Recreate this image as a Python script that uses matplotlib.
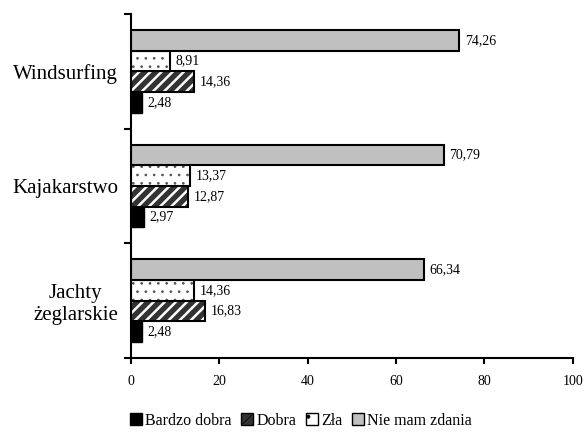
import numpy as np
import matplotlib
import matplotlib.pyplot as plt
from matplotlib.patches import Patch

# dane z wykresu
categories = ['Jachty\nżeglarskie', 'Kajakarstwo', 'Windsurfing']
series_names = ['Bardzo dobra', 'Dobra', 'Zła', 'Nie mam zdania']
bardzo_dobra = [2.48, 2.97, 2.48]
dobra = [16.83, 12.87, 14.36]
zla = [14.36, 13.37, 8.91]
nie_mam = [66.34, 70.79, 74.26]
xticks = [0, 20, 40, 60, 80, 100]

plt.rcParams['font.family'] = ['Liberation Serif', 'DejaVu Serif']

fig = plt.figure(figsize=(5.84, 4.37), dpi=100)
ax = fig.add_axes([0.224, 0.181, 0.757, 0.787])

y = np.arange(len(categories))
h = 0.18
offsets = [-1.5 * h, -0.5 * h, 0.5 * h, 1.5 * h]

def label(vals, pos):
    for yy, v in zip(y + pos, vals):
        ax.text(v + 1.3, yy, ('%.2f' % v).replace('.', ','), va='center', ha='left',
                fontsize=10)

def set_hlw(bars, lw):
    for b in bars:
        if hasattr(b, 'set_hatch_linewidth'):
            b.set_hatch_linewidth(lw)

# Bardzo dobra - czarne
ax.barh(y + offsets[0], bardzo_dobra, height=h, color='black', edgecolor='black', linewidth=1)
label(bardzo_dobra, offsets[0])

# Dobra - ciemne z bialymi paskami
with matplotlib.rc_context({'hatch.linewidth': 1.8}):
    b = ax.barh(y + offsets[1], dobra, height=h, color='#333333', edgecolor='white', hatch='///', linewidth=0)
set_hlw(b, 1.8)
ax.barh(y + offsets[1], dobra, height=h, fill=False, edgecolor='black', linewidth=1.5)
label(dobra, offsets[1])

# Zla - kropki
with matplotlib.rc_context({'hatch.linewidth': 0.7}):
    b = ax.barh(y + offsets[2], zla, height=h, color='white', edgecolor='#555555', hatch='..', linewidth=0)
set_hlw(b, 0.7)
ax.barh(y + offsets[2], zla, height=h, fill=False, edgecolor='black', linewidth=1.5)
label(zla, offsets[2])

# Nie mam zdania - szare
ax.barh(y + offsets[3], nie_mam, height=h, color='#c0c0c0', edgecolor='black', linewidth=1.5)
label(nie_mam, offsets[3])

ax.set_xlim(0, 100)
ax.set_ylim(-0.5, 2.5)
ax.set_xticks(xticks)
ax.set_xticklabels([str(t) for t in xticks], fontsize=10)
ax.set_yticks(y)
ax.set_yticklabels(categories, fontsize=15, multialignment='center')
ax.set_yticks([-0.5, 0.5, 1.5, 2.5], minor=True)
ax.tick_params(axis='y', which='major', length=0, pad=9)
ax.tick_params(axis='y', which='minor', length=5, width=1.5)
ax.tick_params(axis='x', length=4, width=1.5, pad=8)
for s in ['top', 'right']:
    ax.spines[s].set_visible(False)
for s in ['left', 'bottom']:
    ax.spines[s].set_linewidth(1.5)

handles = [
    Patch(facecolor='black', edgecolor='black'),
    Patch(facecolor='#333333', edgecolor='black', hatch='///'),
    Patch(facecolor='white', edgecolor='black', hatch='.'),
    Patch(facecolor='#c0c0c0', edgecolor='black'),
]
with matplotlib.rc_context({'hatch.linewidth': 0.5}):
    fig.legend(handles, series_names, loc='center', bbox_to_anchor=(0.515, 0.037), ncol=4,
               frameon=False, fontsize=11.5, handlelength=0.75, handleheight=0.75,
               handletextpad=0.2, columnspacing=0.6)

fig.savefig('out.png', dpi=100)
